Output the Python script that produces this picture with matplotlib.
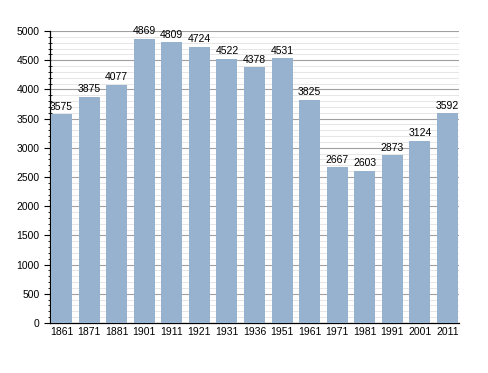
import matplotlib
matplotlib.use("Agg")
import matplotlib.pyplot as plt
from matplotlib.ticker import MultipleLocator

years = ["1861", "1871", "1881", "1901", "1911", "1921", "1931", "1936",
         "1951", "1961", "1971", "1981", "1991", "2001", "2011"]
population = [3575, 3875, 4077, 4869, 4809, 4724, 4522, 4378,
              4531, 3825, 2667, 2603, 2873, 3124, 3592]

plt.rcParams['font.family'] = ['Liberation Sans', 'DejaVu Sans']

fig = plt.figure(figsize=(4.88, 3.73), dpi=100)
ax = fig.add_axes([50 / 488, 1 - 323 / 373, 409 / 488, 292 / 373])

x = list(range(len(years)))
ax.bar(x, population, width=0.76, color='#97B2CF', zorder=3)

# value labels above each bar
for xi, v in zip(x, population):
    ax.text(xi, v + 45, str(v), ha='center', va='bottom', fontsize=7.5,
            color='black', zorder=4)

ax.set_xlim(-0.42, len(years) - 1 + 0.42)
ax.set_ylim(0, 5000)
ax.set_xticks(x)
ax.set_xticklabels(years, fontsize=7.5)
ax.yaxis.set_major_locator(MultipleLocator(500))
ax.yaxis.set_minor_locator(MultipleLocator(100))
ax.tick_params(axis='y', which='major', labelsize=7.5, length=4, direction='out', width=0.8)
ax.tick_params(axis='y', which='minor', length=2.5, direction='inout', width=0.6)
ax.tick_params(axis='x', length=0, pad=3)

ax.grid(axis='y', which='major', color='#A0A0A0', linewidth=0.8, zorder=1)
ax.grid(axis='y', which='minor', color='#E2E2E2', linewidth=0.6, zorder=1)

for side in ['top', 'right']:
    ax.spines[side].set_visible(False)
ax.spines['left'].set_linewidth(0.9)
ax.spines['bottom'].set_linewidth(0.9)

fig.savefig('out.png', dpi=100)
